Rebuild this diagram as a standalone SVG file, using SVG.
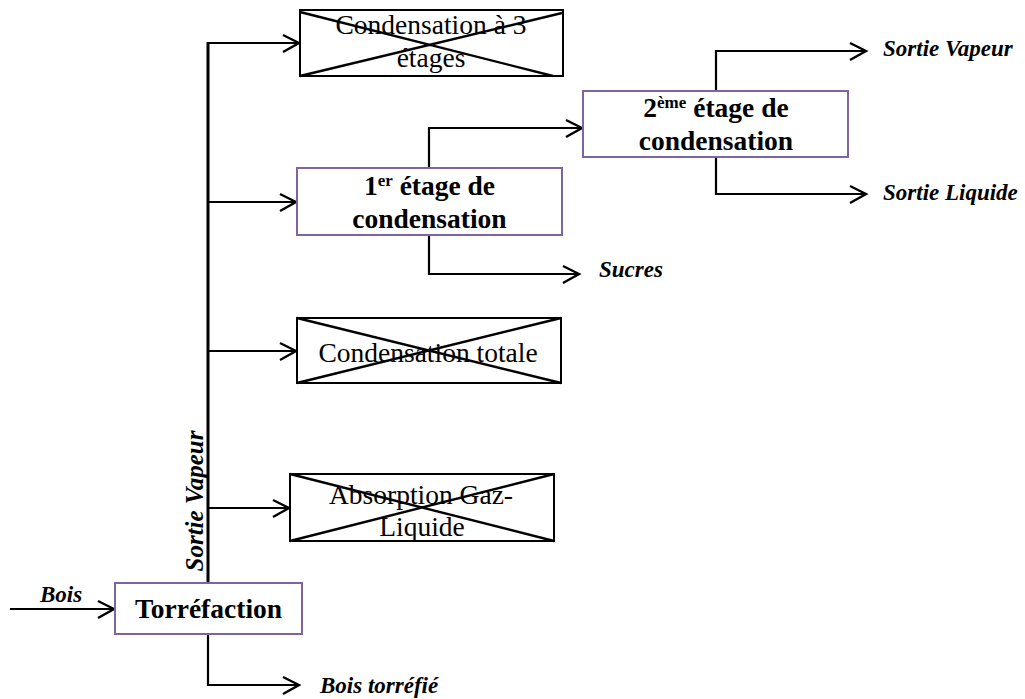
<svg xmlns="http://www.w3.org/2000/svg" width="1025" height="699" viewBox="0 0 1025 699">
<style>
.box{fill:#fff;stroke:#8064A2;stroke-width:2}
.xbox{fill:#fff;stroke:#000;stroke-width:2}
.cross{stroke:#000;stroke-width:2.4;fill:none}
.ln{stroke:#000;stroke-width:2.2;fill:none}
.trunk{stroke:#000;stroke-width:3;fill:none}
.ah{stroke:#000;stroke-width:2.4;fill:none}
.t{font-family:"Liberation Serif","Times New Roman",serif;font-size:27.5px;fill:#000;text-anchor:middle}
.b{font-family:"Liberation Serif","Times New Roman",serif;font-size:27.5px;font-weight:bold;fill:#000;text-anchor:middle}
.sup{font-size:17px}
.lab{font-family:"Liberation Serif","Times New Roman",serif;font-size:23px;font-weight:bold;font-style:italic;fill:#000}
</style>
<rect width="1025" height="699" fill="#fff"/>
<g id="connectors">
  <path class="trunk" d="M208,42 V583"/>
  <path class="ln" d="M208,43 H299"/>
  <path class="ah" d="M283,35 L299,43 L283,52"/>
  <path class="ln" d="M208,202 H296"/>
  <path class="ah" d="M280,194 L296,202 L280,211"/>
  <path class="ln" d="M208,351 H296"/>
  <path class="ah" d="M280,343 L296,351 L280,360"/>
  <path class="ln" d="M208,508 H289"/>
  <path class="ah" d="M273,500 L289,508 L273,517"/>
  <path class="ln" d="M10,609 H114"/>
  <path class="ah" d="M98,601 L114,609 L98,618"/>
  <path class="ln" d="M208,634 V685 H299"/>
  <path class="ah" d="M283,677 L299,685 L283,694"/>
  <path class="ln" d="M429,168 V128 H582"/>
  <path class="ah" d="M566,120 L582,128 L566,137"/>
  <path class="ln" d="M429,235 V274 H579"/>
  <path class="ah" d="M563,266 L579,274 L563,283"/>
  <path class="ln" d="M716,91 V51 H866"/>
  <path class="ah" d="M850,43 L866,51 L850,60"/>
  <path class="ln" d="M716,157 V194 H866"/>
  <path class="ah" d="M850,186 L866,194 L850,203"/>
</g>
<g id="node-cond3">
  <rect class="xbox" x="300" y="10" width="263" height="66"/>
  <path class="cross" d="M300,12 L553,76 M300,76 L562,13"/>
  <text class="t" x="431" y="34">Condensation à 3</text>
  <text class="t" x="431" y="67">étages</text>
</g>
<g id="node-etage1">
  <rect class="box" x="297" y="168" width="265" height="67"/>
  <text class="b" x="429.5" y="195">1<tspan class="sup" dy="-9">er</tspan><tspan dy="9"> étage de</tspan></text>
  <text class="b" x="429.5" y="228">condensation</text>
</g>
<g id="node-etage2">
  <rect class="box" x="583" y="91" width="265" height="66"/>
  <text class="b" x="716" y="117">2<tspan class="sup" dy="-9">ème</tspan><tspan dy="9"> étage de</tspan></text>
  <text class="b" x="716" y="150">condensation</text>
</g>
<g id="node-totale">
  <rect class="xbox" x="297" y="318" width="264" height="65"/>
  <path class="cross" d="M297,318 L561,383 M297,383 L561,318"/>
  <text class="t" x="428" y="362">Condensation totale</text>
</g>
<g id="node-absorption">
  <rect class="xbox" x="290" y="474" width="264" height="67"/>
  <path class="cross" d="M290,474 L554,541 M290,541 L554,474"/>
  <text class="t" x="421" y="504">Absorption Gaz-</text>
  <text class="t" x="422" y="536">Liquide</text>
</g>
<g id="node-torrefaction">
  <rect class="box" x="115" y="583" width="187" height="51"/>
  <text class="b" x="208.5" y="618">Torréfaction</text>
</g>
<g id="labels">
  <text class="lab" x="40" y="602">Bois</text>
  <text class="lab" x="320" y="693">Bois torréfié</text>
  <text class="lab" x="599" y="277">Sucres</text>
  <text class="lab" x="883" y="56">Sortie Vapeur</text>
  <text class="lab" x="883" y="200">Sortie Liquide</text>
  <text class="lab" transform="translate(203,501) rotate(-90)" text-anchor="middle" style="font-size:25px">Sortie Vapeur</text>
</g>
</svg>
